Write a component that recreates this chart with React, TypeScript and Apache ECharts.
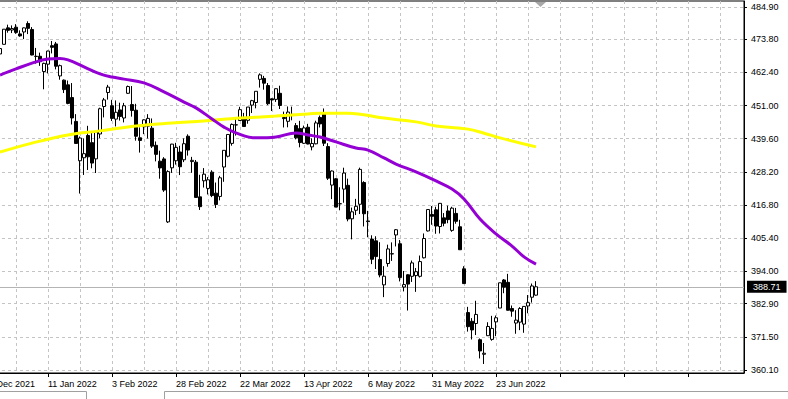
import React, { useEffect, useRef } from 'react';
import * as echarts from 'echarts';

// Axis slots shown before the first visible bar (only their label shows, clipped)
const leadDates = ['2021-12-17', '2021-12-20', '2021-12-21', '2021-12-22'];

const dates = [
  '2021-12-23', '2021-12-27', '2021-12-28', '2021-12-29', '2021-12-30', '2021-12-31',
  '2022-01-03', '2022-01-04', '2022-01-05', '2022-01-06', '2022-01-07', '2022-01-10', '2022-01-11', '2022-01-12', '2022-01-13', '2022-01-14',
  '2022-01-18', '2022-01-19', '2022-01-20', '2022-01-21', '2022-01-24', '2022-01-25', '2022-01-26', '2022-01-27', '2022-01-28', '2022-01-31',
  '2022-02-01', '2022-02-02', '2022-02-03', '2022-02-04', '2022-02-07', '2022-02-08', '2022-02-09', '2022-02-10', '2022-02-11', '2022-02-14',
  '2022-02-15', '2022-02-16', '2022-02-17', '2022-02-18', '2022-02-22', '2022-02-23', '2022-02-24', '2022-02-25', '2022-02-28',
  '2022-03-01', '2022-03-02', '2022-03-03', '2022-03-04', '2022-03-07', '2022-03-08', '2022-03-09', '2022-03-10', '2022-03-11', '2022-03-14',
  '2022-03-15', '2022-03-16', '2022-03-17', '2022-03-18', '2022-03-21', '2022-03-22', '2022-03-23', '2022-03-24', '2022-03-25', '2022-03-28',
  '2022-03-29', '2022-03-30', '2022-03-31', '2022-04-01', '2022-04-04', '2022-04-05', '2022-04-06', '2022-04-07', '2022-04-08', '2022-04-11',
  '2022-04-12', '2022-04-13', '2022-04-14', '2022-04-18', '2022-04-19', '2022-04-20', '2022-04-21', '2022-04-22', '2022-04-25', '2022-04-26',
  '2022-04-27', '2022-04-28', '2022-04-29', '2022-05-02', '2022-05-03', '2022-05-04', '2022-05-05', '2022-05-06', '2022-05-09', '2022-05-10',
  '2022-05-11', '2022-05-12', '2022-05-13', '2022-05-16', '2022-05-17', '2022-05-18', '2022-05-19', '2022-05-20', '2022-05-23', '2022-05-24',
  '2022-05-25', '2022-05-26', '2022-05-27', '2022-05-31', '2022-06-01', '2022-06-02', '2022-06-03', '2022-06-06', '2022-06-07', '2022-06-08',
  '2022-06-09', '2022-06-10', '2022-06-13', '2022-06-14', '2022-06-15', '2022-06-16', '2022-06-17', '2022-06-21', '2022-06-22', '2022-06-23',
  '2022-06-24', '2022-06-27', '2022-06-28', '2022-06-29', '2022-06-30', '2022-07-01', '2022-07-05', '2022-07-06', '2022-07-07', '2022-07-08',
];

const opens = [
  468.75, 472.06, 477.72, 476.98, 477.93, 475.64,
  476.30, 479.22, 477.16, 467.89, 467.95, 462.70, 465.23, 471.59, 472.19, 461.19,
  459.74, 458.13, 453.75, 445.56, 432.03, 433.06, 440.72, 438.26, 432.68, 441.24,
  450.68, 455.50, 450.95, 446.35, 449.51, 446.73, 455.22, 451.34, 449.41, 439.92,
  443.73, 443.93, 443.22, 437.33, 431.89, 432.66, 411.02, 429.61, 432.03,
  435.04, 432.37, 440.47, 431.75, 431.55, 419.62, 425.14, 422.52, 428.12, 420.89,
  419.77, 429.89, 433.59, 438.00, 444.34, 445.86, 446.91, 445.94, 451.16, 452.06,
  460.02, 460.34, 457.89, 453.31, 453.13, 455.22, 446.89, 445.59, 447.97, 444.11,
  443.08, 438.03, 443.55, 436.81, 437.86, 446.92, 448.54, 436.91, 423.67, 425.83,
  417.24, 422.29, 423.59, 412.07, 415.01, 417.08, 424.55, 411.10, 405.10, 404.49,
  398.07, 389.37, 396.71, 399.98, 406.53, 403.50, 388.62, 392.83, 392.31, 392.56,
  392.31, 398.67, 407.91, 413.55, 415.17, 409.42, 412.40, 414.78, 408.10, 413.93,
  409.34, 394.88, 379.85, 376.85, 376.09, 370.51, 365.51, 371.89, 370.62, 376.64,
  381.40, 391.05, 390.23, 381.23, 376.24, 376.56, 375.88, 382.11, 385.12, 385.83,
];

const highs = [
  472.19, 477.31, 478.81, 478.56, 479.00, 476.86,
  477.85, 479.98, 477.98, 470.82, 469.20, 465.74, 469.85, 473.20, 472.88, 465.09,
  459.96, 459.61, 458.74, 448.06, 440.38, 439.72, 444.04, 441.59, 442.00, 450.28,
  453.63, 458.12, 452.97, 452.78, 451.99, 451.92, 457.88, 457.71, 451.61, 443.50,
  446.28, 448.06, 446.57, 438.66, 435.50, 433.26, 428.76, 437.84, 438.20,
  437.17, 439.72, 441.11, 433.37, 432.30, 427.21, 429.51, 426.43, 428.77, 424.55,
  426.84, 435.68, 441.07, 444.86, 446.46, 450.58, 448.49, 450.50, 452.98, 455.91,
  462.07, 461.20, 458.76, 453.46, 456.91, 457.83, 448.93, 450.69, 450.63, 445.00,
  445.75, 444.11, 444.73, 439.75, 445.80, 447.57, 450.01, 438.08, 428.69, 426.04,
  422.92, 429.64, 425.87, 415.92, 418.93, 429.66, 425.00, 414.80, 406.41, 406.08,
  404.04, 395.80, 403.18, 403.97, 408.57, 404.80, 394.14, 393.01, 397.73, 395.15,
  399.45, 407.04, 415.38, 416.46, 416.24, 417.44, 414.04, 416.61, 416.22, 415.82,
  411.74, 395.78, 381.81, 377.94, 383.90, 370.94, 369.38, 376.52, 378.72, 378.83,
  390.09, 391.36, 393.16, 382.27, 380.66, 381.70, 381.98, 385.87, 389.83, 390.64,
];

const lows = [
  468.64, 472.01, 476.06, 475.92, 475.67, 474.67,
  473.85, 475.58, 468.28, 465.43, 464.65, 456.60, 462.05, 468.94, 463.44, 459.90,
  455.31, 451.46, 444.50, 437.95, 420.76, 427.15, 428.86, 429.45, 427.82, 439.81,
  446.94, 453.05, 445.71, 443.83, 445.85, 445.22, 455.01, 447.20, 438.94, 434.84,
  441.18, 439.69, 436.42, 431.82, 425.86, 421.35, 410.64, 427.86, 430.70,
  427.11, 431.57, 433.80, 427.88, 419.36, 415.12, 422.82, 420.44, 419.53, 415.79,
  418.42, 424.80, 433.19, 437.22, 440.68, 445.86, 443.71, 444.76, 448.43, 450.06,
  457.18, 456.47, 451.16, 449.14, 452.26, 449.82, 443.47, 443.53, 445.94, 439.39,
  436.65, 437.84, 437.68, 435.61, 437.68, 443.48, 437.10, 425.44, 418.84, 416.07,
  415.01, 417.60, 411.21, 405.02, 413.36, 413.71, 409.44, 405.73, 396.50, 394.82,
  391.96, 385.15, 395.61, 397.60, 402.58, 390.55, 387.11, 380.54, 390.38, 386.96,
  391.89, 398.45, 407.70, 410.03, 406.93, 407.04, 409.51, 410.55, 407.61, 410.38,
  401.44, 389.75, 373.30, 370.59, 372.12, 364.08, 362.17, 371.81, 370.18, 371.73,
  381.37, 386.50, 380.53, 378.42, 372.56, 373.80, 372.90, 379.60, 383.27, 385.66,
];

const closes = [
  470.60, 477.26, 476.87, 477.48, 476.16, 474.96,
  477.71, 477.55, 468.38, 467.94, 466.09, 465.51, 469.75, 471.02, 464.53, 464.72,
  456.49, 451.75, 446.75, 437.98, 439.84, 434.47, 433.38, 431.24, 441.95, 449.91,
  452.95, 457.35, 446.60, 448.70, 447.26, 450.94, 457.54, 449.32, 440.46, 439.02,
  446.10, 446.60, 437.06, 434.23, 429.57, 421.95, 428.30, 437.75, 436.63,
  429.98, 437.89, 435.71, 432.17, 419.43, 416.25, 427.41, 425.48, 420.07, 417.00,
  426.17, 435.62, 441.07, 444.52, 444.39, 449.59, 443.80, 450.49, 452.69, 455.91,
  461.55, 458.70, 451.64, 452.92, 456.80, 451.03, 446.52, 448.77, 447.57, 439.92,
  438.29, 443.31, 437.79, 437.97, 445.04, 444.71, 438.06, 426.04, 428.51, 416.10,
  417.27, 427.81, 412.00, 414.48, 416.38, 429.06, 413.81, 411.34, 398.17, 399.09,
  392.75, 392.34, 401.72, 400.09, 408.32, 391.86, 389.46, 389.63, 396.92, 393.89,
  397.37, 405.31, 415.26, 412.93, 409.59, 417.39, 410.54, 411.79, 415.74, 411.22,
  401.44, 389.80, 375.00, 373.87, 379.20, 366.65, 365.86, 375.07, 374.39, 378.06,
  390.08, 388.59, 380.65, 380.34, 377.25, 381.24, 381.96, 383.25, 388.99, 388.71,
];

const purpleMaBars = [0, 4, 8, 12, 15, 17, 21, 25, 28, 31, 36, 41, 46, 49, 53, 56, 59, 64, 69, 74, 77, 80, 84, 89, 92, 96, 99, 104, 109, 113, 116, 120, 124, 128, 131, 134];
const purpleMaValues = [461.5, 463.6, 465.6, 467.0, 467.2, 466.7, 464.3, 461.9, 460.8, 460.1, 458.8, 455.7, 452.2, 450.2, 446.4, 443.6, 441.6, 439.9, 440.2, 441.6, 440.9, 440.2, 438.5, 436.4, 435.7, 433.0, 430.9, 428.2, 425.1, 422.3, 418.9, 412.0, 406.9, 402.7, 399.0, 396.5];

const yellowMaBars = [0, 8, 17, 25, 34, 43, 51, 60, 69, 77, 80, 87, 96, 104, 109, 117, 121, 125, 134];
const yellowMaValues = [435.0, 438.1, 440.9, 442.3, 444.0, 445.0, 445.7, 446.7, 447.4, 448.1, 448.4, 448.4, 446.7, 445.4, 444.0, 442.9, 441.5, 439.9, 436.8];

const priceTicks = [360.1, 371.5, 382.9, 394.0, 405.4, 416.8, 428.2, 439.6, 451.0, 462.4, 473.8, 484.9];

const FUTURE_SLOTS = 52;
const MONTHS = ['Jan', 'Feb', 'Mar', 'Apr', 'May', 'Jun', 'Jul', 'Aug', 'Sep', 'Oct', 'Nov', 'Dec'];
const FONT = '"Liberation Sans", Arial, sans-serif';

function fmtDate(v: string): string {
  const m = /^(\d{4})-(\d{2})-(\d{2})$/.exec(v);
  if (!m) return '';
  return `${parseInt(m[3], 10)} ${MONTHS[parseInt(m[2], 10) - 1]} ${m[1]}`;
}

export default function App() {
  const ref = useRef<HTMLDivElement>(null);

  useEffect(() => {
    if (!ref.current) return;
    const chart = echarts.init(ref.current, undefined, { renderer: 'svg' });

    const lead = leadDates.length;
    const future = Array.from({ length: FUTURE_SLOTS }, (_, i) => `f${i}`);
    const categories = [...leadDates, ...dates, ...future];
    const N = categories.length;

    const candles: any[] = categories.map(() => '-');
    dates.forEach((_, i) => {
      candles[i + lead] = [opens[i], closes[i], lows[i], highs[i]];
    });

    const sparse = (bars: number[], vals: number[]) => {
      const arr: any[] = new Array(N).fill(null);
      bars.forEach((b, k) => { arr[b + lead] = vals[k]; });
      return arr;
    };

    const lastClose = closes[closes.length - 1];

    const option: any = {
      animation: false,
      backgroundColor: '#ffffff',
      grid: {
        left: -16, right: 44, top: 1, bottom: 26,
        show: true, borderColor: '#000', borderWidth: 1, backgroundColor: '#fff',
        containLabel: false, outerBoundsMode: 'none',
      },
      xAxis: {
        type: 'category',
        data: categories,
        boundaryGap: false,
        axisLine: { show: true, onZero: false, lineStyle: { color: '#000', width: 1 } },
        axisTick: { show: true, alignWithLabel: true, length: 4, interval: (i: number) => i % 16 === 0, lineStyle: { color: '#000' } },
        axisLabel: {
          interval: (i: number) => i % 16 === 0,
          formatter: (v: string) => fmtDate(v),
          align: 'left', color: '#000', fontSize: 9, fontFamily: FONT, margin: 6,
        },
        splitLine: { show: true, interval: (i: number) => i % 8 === 0, lineStyle: { color: '#c4c4c4', type: [3, 3], width: 1 } },
      },
      yAxis: {
        type: 'value',
        position: 'right',
        min: 359.07,
        max: 486.95,
        axisLine: { show: true, lineStyle: { color: '#000', width: 1 } },
        axisTick: { show: true, length: 3, customValues: priceTicks, lineStyle: { color: '#000' } },
        axisLabel: {
          customValues: priceTicks,
          formatter: (v: number) => v.toFixed(2),
          color: '#000', fontSize: 9, fontFamily: FONT, margin: 7,
        },
        splitLine: { show: true, lineStyle: { color: '#c4c4c4', type: [3, 3], width: 1 } },
      },
      series: [
        {
          type: 'candlestick',
          data: candles,
          barWidth: 3,
          z: 3,
          itemStyle: { color: '#fff', color0: '#000', borderColor: '#000', borderColor0: '#000', borderWidth: 1 },
          markLine: {
            silent: true,
            symbol: ['none', 'none'],
            z: 1,
            data: [{ yAxis: lastClose }],
            lineStyle: { color: '#b4b4b4', type: 'solid', width: 1 },
            label: {
              show: true, position: 'end', formatter: lastClose.toFixed(2),
              backgroundColor: '#000', color: '#fff', fontSize: 9, fontFamily: FONT,
              padding: [2, 6, 1, 6], distance: 3,
            },
          },
        },
        {
          type: 'line',
          data: sparse(yellowMaBars, yellowMaValues),
          connectNulls: true, smooth: 0.4, showSymbol: false, z: 5, silent: true,
          lineStyle: { color: '#ffff00', width: 3 },
        },
        {
          type: 'line',
          data: sparse(purpleMaBars, purpleMaValues),
          connectNulls: true, smooth: 0.4, showSymbol: false, z: 6, silent: true,
          lineStyle: { color: '#9400d3', width: 3 },
        },
      ],
      graphic: [
        { type: 'polygon', shape: { points: [[535, 2], [546, 2], [540.5, 7]] }, style: { fill: '#a8a8a8' }, silent: true },
        { type: 'polyline', shape: { points: [[0, 391.5], [86.5, 391.5], [86.5, 399]] }, style: { stroke: '#a0a0a0', lineWidth: 1, fill: null }, silent: true },
        { type: 'polyline', shape: { points: [[164.5, 399], [164.5, 391.5], [788, 391.5]] }, style: { stroke: '#a0a0a0', lineWidth: 1, fill: null }, silent: true },
      ],
    };

    chart.setOption(option);
    return () => chart.dispose();
  }, []);

  return (
    <div
      ref={ref}
      style={{ position: 'absolute', left: 0, top: 0, width: 788, height: 399, background: '#fff' }}
    />
  );
}
